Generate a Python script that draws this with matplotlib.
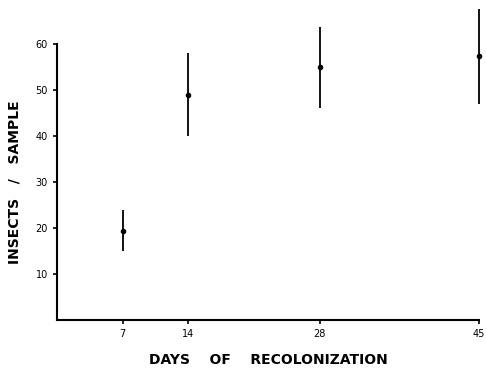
import matplotlib.pyplot as plt

# days of recolonization and mean insects per sample
days = [7, 14, 28, 45]
means = [19.3, 49.0, 55.0, 57.4]
err_low = [4.3, 9.0, 9.0, 10.4]
err_high = [4.7, 9.0, 8.7, 10.2]

y_ticks = [10, 20, 30, 40, 50, 60]

fig = plt.figure(figsize=(4.86, 3.73), dpi=100)
ax = fig.add_axes([0.117, 0.142, 0.869, 0.740])

ax.errorbar(days, means, yerr=[err_low, err_high], fmt='o', color='black',
            markersize=3, elinewidth=1.3, capsize=0, clip_on=False)

ax.set_xlim(0, 45)
ax.set_ylim(0, 60)
ax.set_xticks(days)
ax.set_yticks(y_ticks)
ax.tick_params(labelsize=7, length=3, width=1.2)

for side in ['top', 'right']:
    ax.spines[side].set_visible(False)
for side in ['left', 'bottom']:
    ax.spines[side].set_linewidth(1.5)

ax.set_xlabel('DAYS    OF    RECOLONIZATION', fontsize=10,
              fontweight='bold', labelpad=10)
ax.set_ylabel('INSECTS   /   SAMPLE', fontsize=10,
              fontweight='bold', labelpad=10)

plt.savefig("out.png", dpi=100)
